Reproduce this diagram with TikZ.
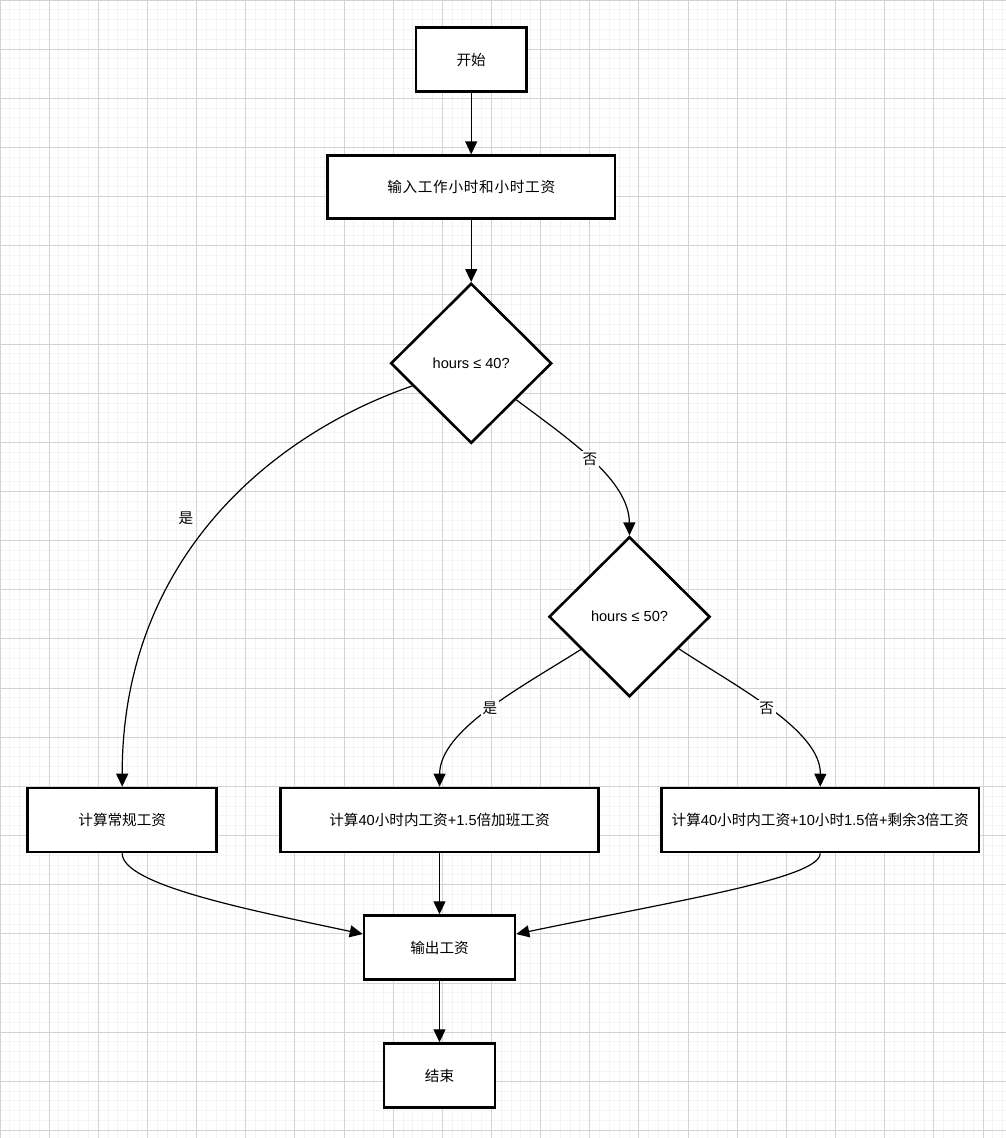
\documentclass[tikz,border=0pt]{standalone}
\usepackage{fontspec}
\setmainfont{Liberation Sans}
\newfontfamily\cjk{Noto Sans CJK SC}
\newfontfamily\cjkwide[LetterSpace=5]{Noto Sans CJK SC}
\usetikzlibrary{shapes.geometric,arrows.meta}
\definecolor{minorgridc}{HTML}{F4F4F4}
\definecolor{majorgridc}{HTML}{D3D3D3}
\begin{document}
\begin{tikzpicture}[x=1pt,y=-1pt,
  box/.style={draw=black, line width=2.6pt, fill=white, inner sep=0pt, font=\fontsize{14.6pt}{17pt}\selectfont},
  decision/.style={diamond, draw=black, line width=2.6pt, fill=white, inner sep=0pt, aspect=1, font=\fontsize{14.6pt}{17pt}\selectfont},
  conn/.style={draw=black, line width=1.2pt, -{Triangle[length=13pt,width=12pt]}},
  lbl/.style={fill=white, inner sep=1.5pt, font=\fontsize{14.6pt}{17pt}\selectfont},
  minorline/.style={draw=minorgridc, line width=1pt},
  majorline/.style={draw=majorgridc, line width=1pt}]
\useasboundingbox (0,0) rectangle (1006,1138);
\fill[white] (0,0) rectangle (1006,1138);
% grid
\foreach \i in {0,...,102} {\draw[minorline] (\i*9.83,0) -- (\i*9.83,1138);}
\foreach \j in {0,...,115} {\draw[minorline] (0,\j*9.83) -- (1006,\j*9.83);}
\foreach \i in {0,...,20} {\draw[majorline] (\i*49.15,0) -- (\i*49.15,1138);}
\foreach \j in {0,...,23} {\draw[majorline] (0,\j*49.15) -- (1006,\j*49.15);}

% nodes
\node[box, minimum width=110.5pt, minimum height=64.5pt] (start) at (471.2,59.5) {{\cjk 开始}};
\node[box, minimum width=287.4pt, minimum height=63pt] (input) at (471.2,187.2) {{\cjkwide 输入工作小时和小时工资}};
\node[decision, minimum width=161pt, minimum height=160pt] (d1) at (471.2,363.3) {hours ≤ 40?};
\node[decision, minimum width=161pt, minimum height=160pt] (d2) at (629.5,616.7) {hours ≤ 50?};
\node[box, minimum width=189pt, minimum height=64pt] (L) at (122.2,820) {{\cjk 计算常规工资}};
\node[box, minimum width=317.5pt, minimum height=64pt] (M) at (439.5,820) {{\cjk 计算}40{\cjk 小时内工资}+1.5{\cjk 倍加班工资}};
\node[box, minimum width=317.7pt, minimum height=64pt] (R) at (820.2,820) {{\cjk 计算}40{\cjk 小时内工资}+10{\cjk 小时}1.5{\cjk 倍}+{\cjk 剩余}3{\cjk 倍工资}};
\node[box, minimum width=151pt, minimum height=64pt] (out) at (439.5,947.6) {{\cjk 输出工资}};
\node[box, minimum width=111pt, minimum height=64pt] (end) at (439.5,1075.6) {{\cjk 结束}};

% connectors
\draw[conn] (start.south) -- (input.north);
\draw[conn] (input.south) -- (d1.north);
\draw[conn] (d1.201) .. controls (270,435) and (122,560) .. (L.north);
\draw[conn] (d1.321) .. controls (570,440) and (629,480) .. (d2.north);
\draw[conn] (d2.214) .. controls (520,688) and (440,730) .. (M.north);
\draw[conn] (d2.327) .. controls (735,686) and (821,730) .. (R.north);
\draw[conn] (L.south) .. controls (122,885) and (250,910) .. (out.170);
\draw[conn] (M.south) -- (out.north);
\draw[conn] (R.south) .. controls (820.5,878) and (680,900) .. (out.10);
\draw[conn] (out.south) -- (end.north);

% labels
\node[lbl] (yes1) at (186,518) {{\cjk 是}};
\node[lbl] (no1) at (590,459) {{\cjk 否}};
\node[lbl] (yes2) at (490,708) {{\cjk 是}};
\node[lbl] (no2) at (766.7,708) {{\cjk 否}};
\end{tikzpicture}
\end{document}
